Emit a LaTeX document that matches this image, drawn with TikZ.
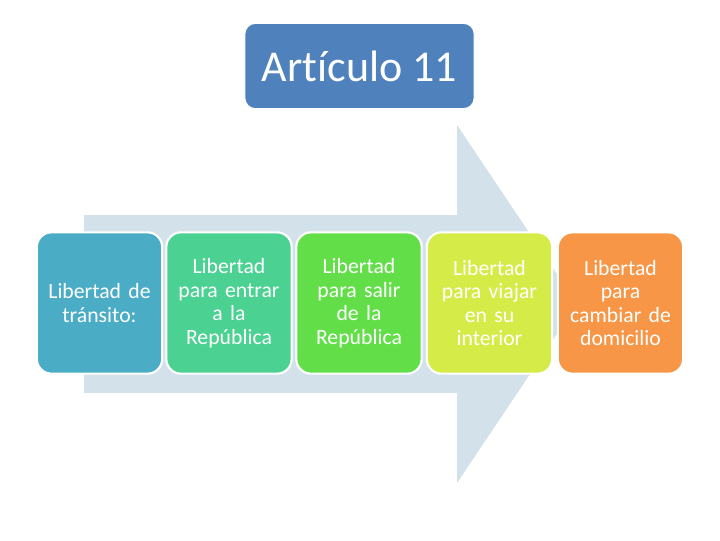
\documentclass[tikz,border=0pt]{standalone}
\usepackage{fontspec}
\setmainfont[Ligatures=NoCommon]{Carlito}
\newfontfamily\boxfont[Ligatures=NoCommon,WordSpace=0.7]{Carlito}
\definecolor{titleblue}{HTML}{4F81BD}
\definecolor{arrowcol}{HTML}{D3E1EA}
\definecolor{c1}{HTML}{4BACC6}
\definecolor{c2}{HTML}{4BD191}
\definecolor{c3}{HTML}{62DF48}
\definecolor{c4}{HTML}{D5EC48}
\definecolor{c5}{HTML}{F79646}
\begin{document}
\begin{tikzpicture}[x=0.75pt,y=-0.75pt,
  stepbox/.style={draw=white,line width=1.6pt,rounded corners=11pt,
    minimum width=93pt,minimum height=106pt,inner sep=1pt,
    text width=92pt,align=center,text=white,
    font=\boxfont\fontsize{16.3}{17.6}\selectfont},
  titlebox/.style={fill=titleblue,draw=white,line width=0.8pt,rounded corners=8pt,
    minimum width=172pt,minimum height=64pt,text=white,
    font=\fontsize{33}{36}\selectfont}]
\useasboundingbox (0,0) rectangle (720,540);
% big arrow
\fill[arrowcol] (84,215) -- (457,215) -- (457,125) -- (577,304) -- (457,483) -- (457,393) -- (84,393) -- cycle;
% title
\node[titlebox] (title) at (359.5,66) {Artículo 11};
% boxes
\node[stepbox,fill=c1] (b1) at (99.5,303) {Libertad de\\tránsito:};
\node[stepbox,fill=c2] (b2) at (229,303) {Libertad\\para entrar\\a la\\República};
\node[stepbox,fill=c3] (b3) at (359,303) {Libertad\\para salir\\de la\\República};
\node[stepbox,fill=c4] (b4) at (489.5,303) {Libertad\\para viajar\\en su\\interior};
\node[stepbox,fill=c5] (b5) at (620.5,303) {Libertad\\para\\cambiar de\\domicilio};
\end{tikzpicture}
\end{document}
